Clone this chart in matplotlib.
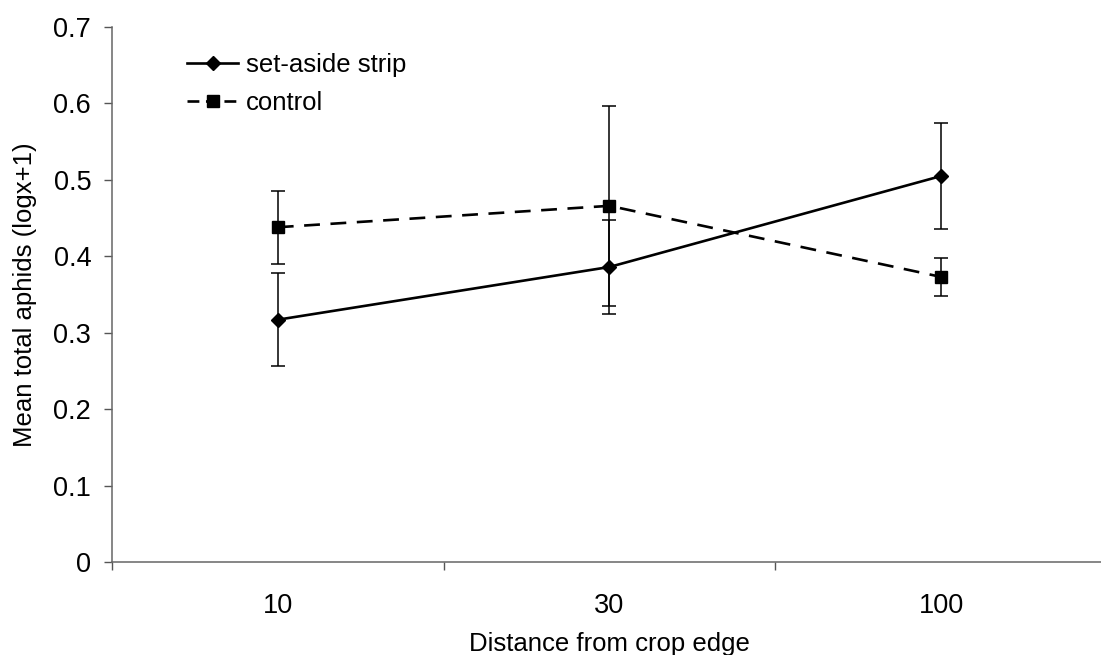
import matplotlib
matplotlib.use('Agg')
import matplotlib.pyplot as plt
from matplotlib.ticker import FixedLocator
from matplotlib.lines import Line2D

plt.rcParams['font.family'] = ['Liberation Sans', 'DejaVu Sans']

# --- data ---
distances = ['10', '30', '100']
set_aside = [0.317, 0.386, 0.505]
set_aside_err = [0.061, 0.061, 0.069]
control = [0.438, 0.466, 0.373]
control_err = [0.048, 0.131, 0.025]

x = list(range(len(distances)))

fig = plt.figure(figsize=(11.01, 6.55), dpi=100)
ax = fig.add_axes([0.1017, 0.142, 0.9037, 0.8168])

ax.errorbar(x, set_aside, yerr=set_aside_err, color='black', lw=1.9,
            marker='D', ms=7.5, capsize=5, elinewidth=1.1, capthick=1.1)
ax.errorbar(x, control, yerr=control_err, color='black', lw=1.9,
            ls=(0, (6, 4)), marker='s', ms=8.5, capsize=5, elinewidth=1.1,
            capthick=1.1)

ax.set_xlim(-0.5, 2.5)
ax.set_ylim(0, 0.7)
ax.set_yticks([0, 0.1, 0.2, 0.3, 0.4, 0.5, 0.6, 0.7])
ax.set_yticklabels(['0', '0.1', '0.2', '0.3', '0.4', '0.5', '0.6', '0.7'])
ax.set_xticks(x)
ax.set_xticklabels(distances)
ax.xaxis.set_minor_locator(FixedLocator([-0.5, 0.5, 1.5]))

ax.tick_params(axis='x', which='major', length=0, pad=22, labelsize=19.5)
ax.tick_params(axis='x', which='minor', length=6, width=1, color='#555555',
               direction='out')
ax.tick_params(axis='y', length=6, width=1, color='#555555', pad=9,
               labelsize=19.5)

for s in ['top', 'right']:
    ax.spines[s].set_visible(False)
for s in ['left', 'bottom']:
    ax.spines[s].set_color('#666666')
    ax.spines[s].set_linewidth(1.1)

ax.set_xlabel('Distance from crop edge', fontsize=18.5, labelpad=10)
ax.set_ylabel('Mean total aphids (logx+1)', fontsize=18.5, labelpad=12)

# legend handles without error bars
handles = [
    Line2D([], [], color='black', lw=1.9, marker='D', ms=7.5),
    Line2D([], [], color='black', lw=1.9, ls=(0, (4.5, 2.5)), marker='s', ms=8.5),
]
ax.legend(handles, ['set-aside strip', 'control'], loc='upper left',
          bbox_to_anchor=(0.052, 0.995), frameon=False, fontsize=18.5,
          handlelength=2.0, handletextpad=0.3, labelspacing=0.55)

fig.savefig('out.png', dpi=100)
